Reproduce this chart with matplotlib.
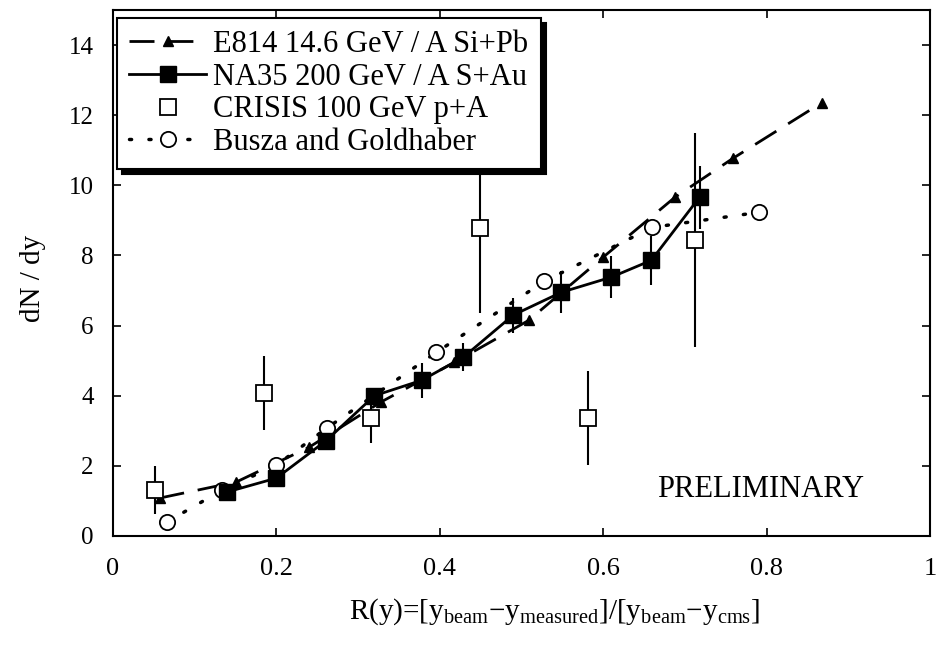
import matplotlib
matplotlib.use("Agg")
import matplotlib.pyplot as plt
import numpy as np

# ---- data ----
e814_x = [0.057, 0.151, 0.240, 0.328, 0.418, 0.509, 0.600, 0.688, 0.759, 0.868]
e814_y = [1.08, 1.54, 2.53, 3.82, 4.95, 6.15, 7.95, 9.66, 10.77, 12.36]

na35_x = [0.139, 0.200, 0.261, 0.320, 0.378, 0.429, 0.490, 0.549, 0.610, 0.659, 0.718]
na35_y = [1.25, 1.65, 2.72, 4.00, 4.44, 5.10, 6.30, 6.95, 7.38, 7.86, 9.66]
na35_err = [0.15, 0.15, 0.2, 0.2, 0.5, 0.4, 0.5, 0.6, 0.6, 0.7, 0.9]

crisis_x = [0.051, 0.185, 0.316, 0.449, 0.582, 0.712]
crisis_y = [1.31, 4.07, 3.36, 8.77, 3.36, 8.43]
crisis_err = [0.68, 1.05, 0.7, 2.4, 1.35, 3.05]

busza_x = [0.066, 0.133, 0.200, 0.262, 0.396, 0.528, 0.660, 0.791]
busza_y = [0.40, 1.30, 2.02, 3.08, 5.24, 7.26, 8.80, 9.23]

xticks = [0, 0.2, 0.4, 0.6, 0.8, 1]
xticklabels = ["0", "0.2", "0.4", "0.6", "0.8", "1"]
yticks = [0, 2, 4, 6, 8, 10, 12, 14]

labels = ["E814 14.6 GeV / A Si+Pb", "NA35 200 GeV / A S+Au",
          "CRISIS 100 GeV p+A", "Busza and Goldhaber"]

plt.rcParams['font.family'] = ['Liberation Serif', 'DejaVu Serif']
plt.rcParams['mathtext.fontset'] = 'custom'
plt.rcParams['mathtext.rm'] = 'Liberation Serif'

fig = plt.figure(figsize=(9.45, 6.47), dpi=100)
ax = fig.add_axes([0.1196, 0.1716, 0.8644, 0.813])

# error bars
ax.errorbar(crisis_x, crisis_y, yerr=crisis_err, fmt='none', ecolor='k',
            elinewidth=1.5, capsize=0, zorder=2)
ax.errorbar(na35_x, na35_y, yerr=na35_err, fmt='none', ecolor='k',
            elinewidth=1.5, capsize=0, zorder=2)

l1, = ax.plot(e814_x, e814_y, color='k', lw=2, dashes=(9, 5), marker='^',
              ms=7, mfc='k', mec='k', zorder=3)
l2, = ax.plot(na35_x, na35_y, color='k', lw=2, ls='-', marker='s',
              ms=11, mfc='k', mec='k', zorder=4)
l3, = ax.plot(crisis_x, crisis_y, ls='none', marker='s', ms=12,
              mfc='white', mec='k', mew=1.3, zorder=3)
l4, = ax.plot(busza_x, busza_y, color='k', lw=2.5, ls=(0, (0.6, 5)),
              marker='o', ms=11, mfc='white', mec='k', mew=1.3,
              dash_capstyle='round', zorder=3)

ax.set_xlim(0, 1)
ax.set_ylim(0, 15)
ax.set_xticks(xticks)
ax.set_xticklabels(xticklabels, fontsize=19)
ax.set_yticks(yticks)
ax.tick_params(axis='y', labelsize=18, pad=14)
ax.tick_params(axis='x', pad=16)
ax.tick_params(direction='in', length=6, width=1.2, top=True, right=True)
for s in ax.spines.values():
    s.set_linewidth(1.5)

ax.set_ylabel("dN / dy", fontsize=21)
ax.yaxis.set_label_coords(-0.082, 0.49)
ax.set_xlabel(r"R(y)=[y$_\mathregular{beam}$$-$y$_\mathregular{measured}$]/[y$_\mathregular{beam}$$-$y$_\mathregular{cms}$]",
              fontsize=21)
ax.xaxis.set_label_coords(0.54, -0.115)

ax.text(0.793, 1.11, "PRELIMINARY", fontsize=22, ha='center', va='baseline')

leg = ax.legend([l1, l2, l3, l4], labels, loc='upper left',
                bbox_to_anchor=(0.005, 0.985), borderaxespad=0,
                fontsize=22, handlelength=2.5, handletextpad=0.25,
                labelspacing=0.12, borderpad=0.4, fancybox=False,
                frameon=True, framealpha=1,
                shadow={'ox': 3.5, 'oy': -3.5, 'facecolor': 'k',
                        'edgecolor': 'k', 'alpha': 1})
leg.get_frame().set_edgecolor('k')
leg.get_frame().set_linewidth(1.5)
leg.set_zorder(10)

fig.savefig("out.png", dpi=100)
